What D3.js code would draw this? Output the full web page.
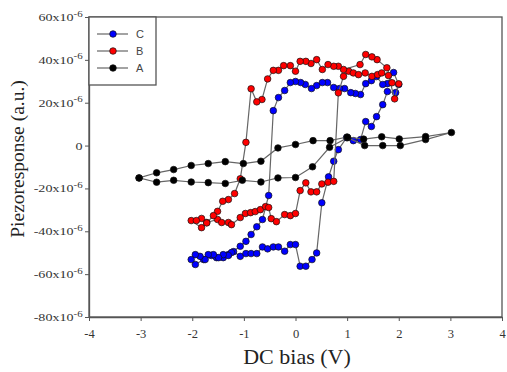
<!DOCTYPE html>
<html>
<head>
<meta charset="utf-8">
<script src="https://cdn.jsdelivr.net/npm/d3@7"></script>
<style>
  body { margin: 0; background: #fff; }
</style>
</head>
<body>
<div id="chart"></div>
<script>
// piezoresponse values in units of 1e-6 (a.u.), bias in V
const xTicks = [-4, -3, -2, -1, 0, 1, 2, 3, 4];
const yTicks = [60, 40, 20, 0, -20, -40, -60, -80];
const seriesNames = ["C", "B", "A"];
const seriesColors = ["#0000ff", "#ff0000", "#000000"];

const biasA = [-3.03, -2.69, -2.36, -2.02, -1.69, -1.36, -1.03, -0.67, -0.34, 0.0, 0.33, 0.66, 1.01, 1.34, 1.69, 2.03, 2.52, 3.02,
  2.52, 2.01, 1.67, 1.32, 1.0, 0.67, 0.34, 0.0, -0.34, -0.67, -1.01, -1.36, -1.69, -2.02, -2.36, -2.69, -3.03];
const respA = [-15.1, -17.1, -16.2, -17.0, -17.3, -17.7, -16.2, -17.0, -15.1, -14.9, -9.9, -0.8, 3.7, 0, 0, 0, 2.8, 6.1,
  4.2, 3.1, 4.1, 3.0, 4.0, 2.3, 2.3, 0.5, -1.1, -7.3, -8.4, -7.5, -8.4, -9.3, -11.2, -12.7, -15.1];

const biasB = [-2.02, -1.82, -1.72, -1.51, -1.43, -1.30, -1.24, -1.07, -0.97, -0.87, -0.78, -0.68, -0.58, -0.52, -0.47, -0.37, -0.21, -0.10, 0.0,
  0.09, 0.20, 0.30, 0.41, 0.51, 0.63, 0.74, 0.83,
  0.93, 1.03, 1.12, 1.22, 1.35, 1.48, 1.59, 1.67, 1.80, 1.92, 2.0,
  1.87, 1.77, 1.58, 1.48, 1.36, 1.25, 0.93, 0.83, 0.74, 0.63, 0.52, 0.41, 0.30, 0.20, 0.09, 0.0, -0.10, -0.23, -0.33, -0.43, -0.54,
  -0.65, -0.75, -0.86, -0.96, -1.07, -1.18, -1.30, -1.41, -1.51, -1.59, -1.72, -1.82, -1.92];
const respB = [-35.0, -38.3, -35.9, -34.5, -35.9, -35.9, -36.9, -33.6, -31.7, -31.3, -30.8, -29.9, -28.5, -28.9, -34.1, -35.5, -32.2, -32.7, -31.7,
  -21.0, -17.4, -21.6, -21.6, -17.9, -17.1, -16.7, 24.6,
  32.3, 34.7, 33.9, 33.1, 33.9, 32.3, 33.1, 33.9, 32.7, 21.8, 28.8,
  29.3, 36.3, 40.1, 41.4, 42.5, 37.8, 35.5, 37.0, 37.0, 37.8, 35.5, 40.1, 38.3, 39.3, 39.3, 34.7, 37.3, 37.3, 35.1, 35.1, 31.1,
  21.5, 20.4, 26.5, 1.5, -15.5, -22.4, -25.2, -26.0, -30.7, -32.7, -36.1, -34.0, -35.0];

const biasC = [-1.94, -1.78, -1.63, -1.53, -1.40, -1.30, -1.20, -1.07, -0.96, -0.86, -0.75, -0.64, -0.54, -0.43, -0.33, -0.21, -0.10, 0.0,
  0.09, 0.20, 0.32, 0.41, 0.51, 0.64, 0.74, 0.83, 0.99, 1.12, 1.26, 1.36, 1.47, 1.57, 1.69, 1.78, 1.94, 2.0,
  1.90, 1.78, 1.69, 1.57, 1.47, 1.36, 1.26, 1.16, 1.07, 0.95, 0.85, 0.74, 0.62, 0.52, 0.41, 0.31, 0.19, 0.10, 0.0, -0.10, -0.21, -0.33, -0.43,
  -0.52, -0.64, -0.75, -0.86, -0.96, -1.07, -1.24, -1.30, -1.40, -1.49, -1.59, -1.69, -1.75, -1.85, -1.94, -2.02];
const respC = [-55.5, -53.2, -51.3, -52.3, -52.3, -50.9, -49.5, -51.7, -50.4, -50.4, -50.4, -47.3, -48.2, -47.3, -47.3, -49.3, -46.2, -46.2,
  -56.3, -56.3, -53.2, -50.1, -26.7, -14.6, -7.3, -1.9, 3.7, 2.3, 2.8, 11.2, 8.9, 13.5, 19.1, 25.2, 24.7, 28.5,
  34.1, 28.9, 28.5, 32.2, 30.3, 28.9, 23.8, 24.3, 24.7, 26.6, 26.6, 27.1, 29.4, 29.4, 28.0, 26.6, 28.5, 29.4, 29.9, 29.4, 25.7, 22.4, 16.3,
  -23.3, -34.5, -37.9, -41.5, -44.7, -47.0, -49.9, -51.3, -50.9, -52.3, -50.9, -50.9, -53.2, -51.7, -50.9, -53.2];

const width = 507, height = 372;
const plotL = 89, plotR = 502, plotT = 17, plotB = 317;

const svg = d3.select("#chart").append("svg")
  .attr("width", width)
  .attr("height", height)
  .style("font-family", "'Liberation Serif', 'Times New Roman', serif");

const x = d3.scaleLinear().domain([-4, 4]).range([plotL, plotR]);
const y = d3.scaleLinear().domain([-80, 60]).range([plotB, plotT]);

// frame
svg.append("rect")
  .attr("x", plotL).attr("y", plotT)
  .attr("width", plotR - plotL).attr("height", plotB - plotT)
  .attr("fill", "none").attr("stroke", "#555").attr("stroke-width", 1.3);

// X axis (plain hyphen for negatives, like the original)
const xAxis = svg.append("g")
  .attr("transform", "translate(0," + plotB + ")")
  .call(d3.axisBottom(x).tickValues(xTicks).tickSize(4).tickSizeOuter(0).tickPadding(8)
    .tickFormat(d => String(d)));
xAxis.select(".domain").attr("stroke", "#555").attr("stroke-width", 1.3);
xAxis.selectAll(".tick line").attr("stroke", "#555");
xAxis.selectAll(".tick text")
  .attr("font-size", 12.5).attr("fill", "#333")
  .style("font-family", "'Liberation Serif', serif");

// Y axis - labels are a bit wide in the original, so stretch them
const yAxis = svg.append("g")
  .attr("transform", "translate(" + plotL + ",0)")
  .call(d3.axisLeft(y).tickValues(yTicks).tickSize(4).tickSizeOuter(0).tickPadding(1).tickFormat(""));
yAxis.select(".domain").attr("stroke", "#555").attr("stroke-width", 1.3);
yAxis.selectAll(".tick line").attr("stroke", "#555");
yAxis.selectAll(".tick text").each(function(d) {
  const t = d3.select(this)
    .attr("font-size", 11).attr("fill", "#333")
    .attr("transform", "scale(1.28,1)")
    .style("font-family", "'Liberation Serif', serif");
  if (d === 0) {
    t.text("0");
  } else {
    t.append("tspan").text(d + "x10");
    t.append("tspan").attr("font-size", 8.5).attr("dy", -4.5).text("-6");
  }
});

// axis titles
svg.append("text")
  .attr("x", 297).attr("y", 364)
  .attr("text-anchor", "middle")
  .attr("font-size", 22).attr("fill", "#222")
  .text("DC bias (V)");

svg.append("text")
  .attr("transform", "translate(24,159) rotate(-90)")
  .attr("text-anchor", "middle")
  .attr("font-size", 19.5).attr("fill", "#222")
  .text("Piezoresponse (a.u.)");

// series
const allSeries = [
  { name: "C", bias: biasC, resp: respC, color: seriesColors[0] },
  { name: "B", bias: biasB, resp: respB, color: seriesColors[1] },
  { name: "A", bias: biasA, resp: respA, color: seriesColors[2] }
];

const line = d3.line()
  .x(d => x(d[0]))
  .y(d => y(d[1]));

allSeries.forEach(s => {
  const pts = s.bias.map((b, i) => [b, s.resp[i]]);
  const g = svg.append("g");
  g.append("path")
    .datum(pts)
    .attr("d", line)
    .attr("fill", "none")
    .attr("stroke", "#666")
    .attr("stroke-width", 1.2);
  g.selectAll("circle")
    .data(pts)
    .enter()
    .append("circle")
    .attr("cx", d => x(d[0]))
    .attr("cy", d => y(d[1]))
    .attr("r", 3.3)
    .attr("fill", s.color)
    .attr("stroke", "#111")
    .attr("stroke-width", 0.7);
});

// legend
const legend = svg.append("g");
legend.append("rect")
  .attr("x", plotL).attr("y", plotT)
  .attr("width", 67).attr("height", 68)
  .attr("fill", "#fff").attr("stroke", "#555").attr("stroke-width", 1.3);
seriesNames.forEach((name, i) => {
  const ly = 34 + i * 17;
  legend.append("line")
    .attr("x1", 97).attr("x2", 128)
    .attr("y1", ly).attr("y2", ly)
    .attr("stroke", "#666").attr("stroke-width", 1.2);
  legend.append("circle")
    .attr("cx", 113).attr("cy", ly).attr("r", 3.3)
    .attr("fill", seriesColors[i]).attr("stroke", "#111").attr("stroke-width", 0.7);
  legend.append("text")
    .attr("x", 136).attr("y", ly + 4)
    .attr("font-size", 11).attr("fill", "#444")
    .style("font-family", "'Liberation Sans', Arial, sans-serif")
    .text(name);
});
</script>
</body>
</html>
